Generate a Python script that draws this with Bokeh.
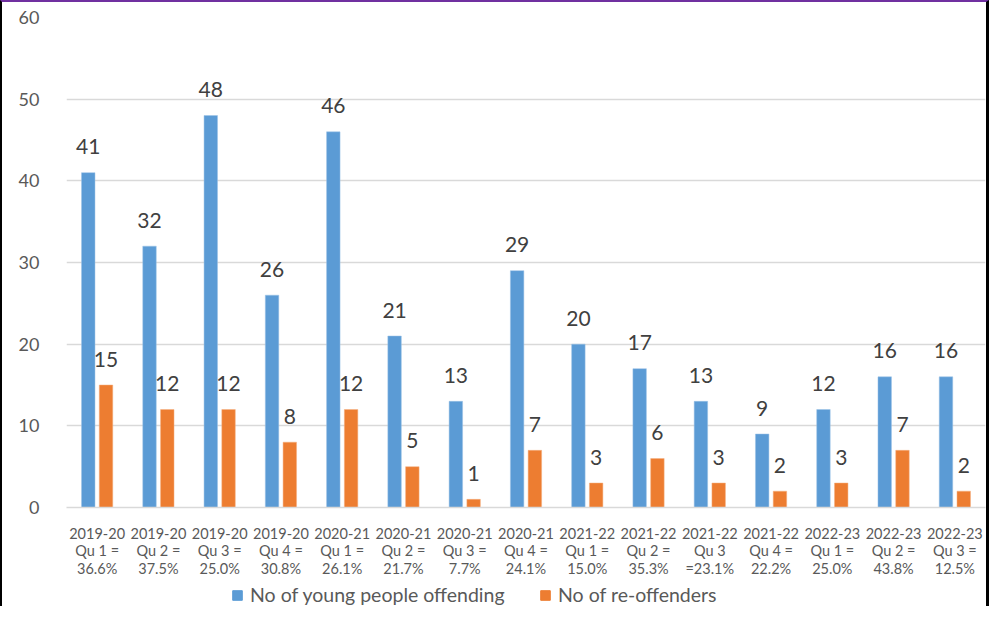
from bokeh.plotting import figure
from bokeh.layouts import column
from bokeh.models import ColumnDataSource, FixedTicker, Legend, LegendItem
from bokeh.transform import dodge
from bokeh.core.properties import value
from bokeh.embed import file_html
from bokeh.resources import INLINE

periods = ["2019-20", "2019-20", "2019-20", "2019-20", "2020-21", "2020-21", "2020-21", "2020-21",
           "2021-22", "2021-22", "2021-22", "2021-22", "2022-23", "2022-23", "2022-23"]
quarters = ["Qu 1 =", "Qu 2 =", "Qu 3 =", "Qu 4 =", "Qu 1 =", "Qu 2 =", "Qu 3 =", "Qu 4 =",
            "Qu 1 =", "Qu 2 =", "Qu 3", "Qu 4 =", "Qu 1 =", "Qu 2 =", "Qu 3 ="]
rates = ["36.6%", "37.5%", "25.0%", "30.8%", "26.1%", "21.7%", "7.7%", "24.1%",
         "15.0%", "35.3%", "=23.1%", "22.2%", "25.0%", "43.8%", "12.5%"]
offending = [41, 32, 48, 26, 46, 21, 13, 29, 20, 17, 13, 9, 12, 16, 16]
reoffenders = [15, 12, 12, 8, 12, 5, 1, 7, 3, 6, 3, 2, 3, 7, 2]
series_names = ["No of young people offending", "No of re-offenders"]
y_ticks = [0, 10, 20, 30, 40, 50, 60]

FONT = "Lato"
BLUE = "#5B9BD5"
ORANGE = "#ED7D31"
GREY = "#595959"
DARK = "#404040"

idx = list(range(len(offending)))
src = ColumnDataSource(dict(
    x=idx,
    off=offending,
    reo=reoffenders,
    off_t=[str(v) for v in offending],
    reo_t=[str(v) for v in reoffenders],
))

p = figure(width=989, height=578, output_backend="svg", toolbar_location=None,
           x_range=(-0.5, len(idx) - 0.5), y_range=(0, 60),
           min_border_left=64, min_border_right=6, min_border_top=15, min_border_bottom=70)
p.styles = {"border-left": "2px solid black", "border-right": "3px solid black",
            "border-top": "2px solid #7030A0"}

p.outline_line_color = None
p.background_fill_color = "white"
p.border_fill_color = "white"

p.vbar(x=dodge("x", -0.145, range=p.x_range), top="off", width=0.22, source=src,
       fill_color=BLUE, line_color="#9DC3E6", line_width=0.5)
p.vbar(x=dodge("x", 0.145, range=p.x_range), top="reo", width=0.22, source=src,
       fill_color=ORANGE, line_color="#F4B183", line_width=0.5)

p.text(x=dodge("x", -0.145, range=p.x_range), y="off", text="off_t", source=src,
       text_align="center", text_baseline="alphabetic", y_offset=-26,
       text_font=value(FONT), text_font_size="21px", text_color=DARK)
p.text(x=dodge("x", 0.145, range=p.x_range), y="reo", text="reo_t", source=src,
       text_align="center", text_baseline="alphabetic", y_offset=-26,
       text_font=value(FONT), text_font_size="21px", text_color=DARK)

# axes
p.xgrid.grid_line_color = None
p.ygrid.grid_line_color = "#D9D9D9"
p.ygrid.grid_line_width = 1.3
p.yaxis.ticker = FixedTicker(ticks=y_ticks)
p.yaxis.axis_line_color = None
p.yaxis.major_tick_line_color = None
p.yaxis.minor_tick_line_color = None
p.yaxis.major_label_standoff = 21
p.yaxis.major_label_text_font = FONT
p.yaxis.major_label_text_font_size = "18px"
p.yaxis.major_label_text_color = GREY

p.xaxis.ticker = FixedTicker(ticks=idx)
p.xaxis.major_label_overrides = {i: f"{periods[i]}\n{quarters[i]}\n{rates[i]}" for i in idx}
p.xaxis.axis_line_color = "#D9D9D9"
p.xaxis.axis_line_width = 1.3
p.xaxis.major_tick_line_color = None
p.xaxis.minor_tick_line_color = None
p.xaxis.major_label_standoff = 11
p.xaxis.major_label_text_font = FONT
p.xaxis.major_label_text_font_size = "14.5px"
p.xaxis.major_label_text_color = GREY
p.xaxis.major_label_text_line_height = 1.05

# legend strip (keys share the series colours; key glyphs sit outside the strip's range)
lg = figure(width=989, height=28, output_backend="svg", toolbar_location=None,
            x_range=(0, 1), y_range=(0, 1), x_axis_type=None, y_axis_type=None,
            min_border=0)
lg.styles = {"border-left": "2px solid black", "border-right": "3px solid black"}
lg.outline_line_color = None
lg.grid.grid_line_color = None
key_src = ColumnDataSource(dict(x=[-5], top=[0]))
k1 = lg.vbar(x="x", top="top", width=0.1, source=key_src, fill_color=BLUE, line_color=BLUE)
k2 = lg.vbar(x="x", top="top", width=0.1, source=key_src, fill_color=ORANGE, line_color=ORANGE)
legend = Legend(items=[LegendItem(label=series_names[0], renderers=[k1]),
                       LegendItem(label=series_names[1], renderers=[k2])],
                orientation="horizontal", location=(165, 0),
                glyph_width=12, glyph_height=12, label_standoff=7, spacing=29,
                label_width=260,
                padding=1, margin=0, border_line_color=None, background_fill_alpha=0,
                label_text_font=FONT, label_text_font_size="19.5px", label_text_color=GREY)
lg.add_layout(legend, "center")

layout = column(p, lg, spacing=0)
open("out.html", "w").write(file_html(layout, INLINE))
